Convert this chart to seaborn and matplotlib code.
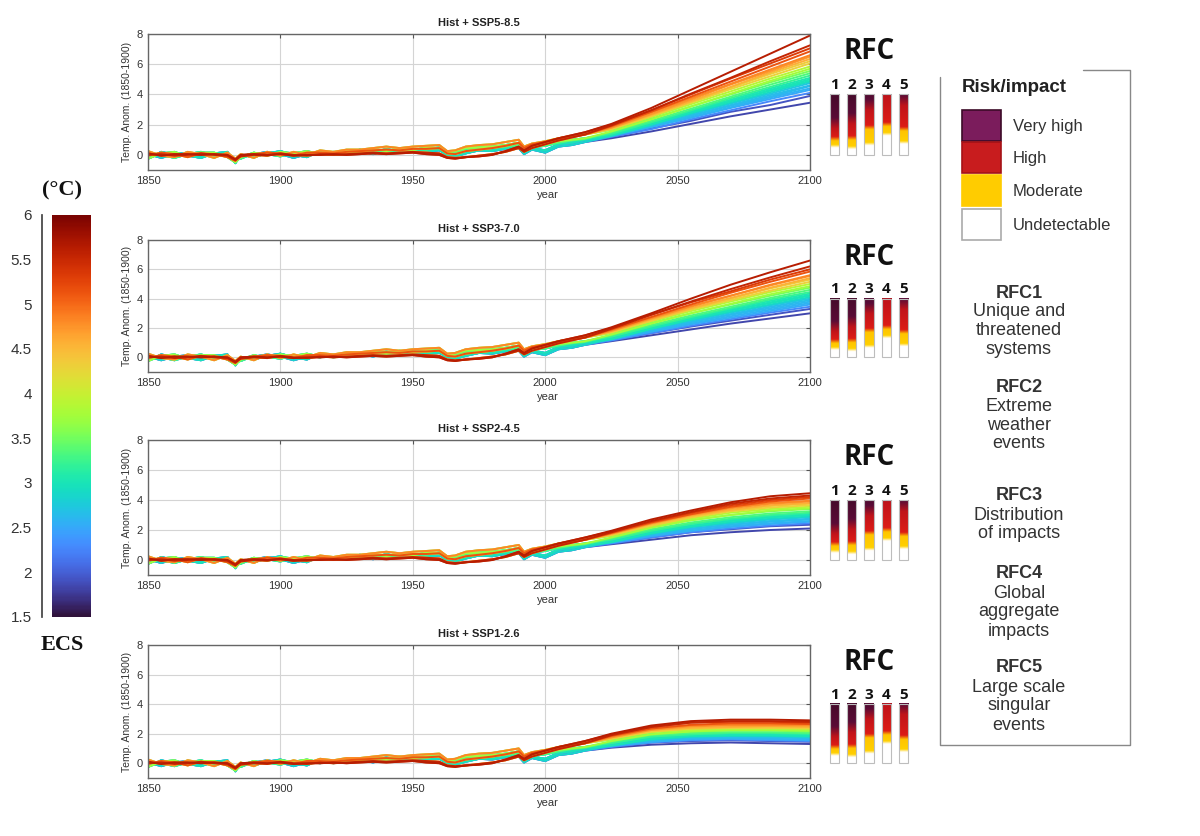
import numpy as np
import pandas as pd
import seaborn as sns
import matplotlib.pyplot as plt
from matplotlib.colors import LinearSegmentedColormap
from matplotlib.patches import Rectangle
from matplotlib.lines import Line2D

sns.set_theme(style='white')
plt.rcParams['font.family'] = ['Liberation Sans', 'DejaVu Sans']

# equilibrium climate sensitivity of each model (°C)
ecs = [1.83, 1.92, 2.26, 2.49, 2.56, 2.60, 2.64, 2.71, 2.87, 2.98, 3.00, 3.03, 3.22,
       3.34, 3.52, 3.74, 3.87, 4.31, 4.34, 4.56, 4.72, 4.83, 5.15, 5.34, 5.55, 5.64]
# which historical run each model follows
hist_kind = ['A', 'E', 'A', 'G', 'E', 'B', 'E', 'G', 'A', 'B', 'E', 'G', 'B',
             'G', 'C', 'B', 'H', 'C', 'D', 'H', 'D', 'C', 'H', 'F', 'D', 'F']

hist_years = [1850, 1855, 1860, 1865, 1870, 1875, 1880, 1883, 1885, 1890, 1895, 1900,
              1905, 1910, 1915, 1920, 1925, 1930, 1935, 1940, 1945, 1950, 1955, 1960,
              1963, 1966, 1970, 1975, 1980, 1985, 1990, 1992, 1995, 2000, 2005, 2010, 2015]
hist_runs = {
    'A': [0.05, -0.20, 0.05, 0.15, -0.10, 0.05, -0.10, -0.40, -0.05, 0.05, 0.20, 0.05,
          -0.20, 0.05, 0.15, 0.00, 0.10, 0.25, 0.05, 0.30, 0.15, 0.25, 0.20, 0.30,
          0.05, 0.10, 0.20, 0.30, 0.25, 0.40, 0.45, 0.05, 0.35, 0.15, 0.55, 0.65, 0.85],
    'B': [-0.25, 0.10, 0.20, -0.10, 0.15, 0.15, -0.15, -0.50, -0.15, 0.15, -0.05, 0.20,
          0.10, 0.25, 0.05, 0.15, 0.30, 0.15, 0.40, 0.25, 0.45, 0.30, 0.50, 0.45,
          0.15, 0.25, 0.45, 0.50, 0.55, 0.65, 0.80, 0.45, 0.60, 0.75, 0.90, 1.00, 1.10],
    'C': [0.25, -0.05, -0.15, 0.20, 0.05, -0.20, 0.15, -0.25, 0.05, -0.20, 0.20, -0.05,
          0.20, 0.00, 0.30, 0.20, 0.35, 0.35, 0.45, 0.55, 0.45, 0.55, 0.60, 0.65,
          0.25, 0.30, 0.55, 0.65, 0.70, 0.85, 1.00, 0.55, 0.75, 0.90, 1.10, 1.25, 1.35],
    'D': [0.00, 0.05, -0.05, 0.00, 0.10, 0.00, -0.05, -0.35, -0.10, 0.00, -0.05, 0.10,
          0.00, -0.05, 0.05, 0.00, 0.05, 0.10, 0.15, 0.10, 0.15, 0.20, 0.15, 0.10,
          -0.15, -0.20, -0.15, -0.05, 0.05, 0.20, 0.45, 0.20, 0.45, 0.70, 0.95, 1.15, 1.35],
    'E': [-0.25, 0.20, 0.00, -0.05, -0.20, 0.10, 0.20, -0.55, 0.00, -0.15, 0.10, 0.25,
          0.00, -0.15, 0.25, 0.05, 0.05, 0.35, 0.15, 0.40, 0.20, 0.40, 0.25, 0.35,
          -0.05, -0.10, 0.10, 0.30, 0.30, 0.45, 0.50, 0.15, 0.45, 0.30, 0.70, 0.80, 1.00],
    'F': [0.10, -0.05, 0.05, 0.05, 0.00, 0.05, 0.00, -0.30, 0.00, 0.05, 0.00, 0.05,
          -0.05, 0.00, 0.00, 0.05, 0.00, 0.05, 0.10, 0.05, 0.10, 0.15, 0.05, 0.00,
          -0.20, -0.25, -0.15, -0.10, 0.00, 0.25, 0.55, 0.30, 0.60, 0.85, 1.10, 1.30, 1.50],
    'G': [0.15, 0.00, -0.20, 0.05, 0.20, -0.05, 0.05, -0.30, -0.25, 0.10, 0.05, -0.10,
          0.15, 0.10, 0.00, 0.20, 0.10, 0.30, 0.30, 0.20, 0.35, 0.40, 0.35, 0.50,
          0.20, 0.15, 0.30, 0.45, 0.45, 0.55, 0.65, 0.35, 0.50, 0.60, 0.80, 0.95, 1.05],
    'H': [-0.05, 0.15, 0.05, -0.15, 0.10, 0.05, -0.15, -0.40, -0.05, 0.05, 0.15, 0.10,
          -0.05, 0.15, 0.15, 0.10, 0.20, 0.25, 0.30, 0.35, 0.30, 0.40, 0.40, 0.45,
          0.10, 0.05, 0.25, 0.35, 0.45, 0.60, 0.80, 0.45, 0.70, 0.85, 1.05, 1.20, 1.35],
}

scen_years = [2025, 2040, 2055, 2070, 2085, 2100]
ssp585 = [[1.10, 1.55, 2.05, 2.55, 3.00, 3.45], [1.20, 1.75, 2.25, 2.85, 3.30, 3.90],
          [1.20, 1.70, 2.35, 2.95, 3.55, 4.10], [1.30, 1.85, 2.45, 3.10, 3.70, 4.30],
          [1.25, 1.85, 2.50, 3.15, 3.80, 4.40], [1.35, 1.95, 2.60, 3.25, 3.85, 4.55],
          [1.30, 1.90, 2.60, 3.30, 3.95, 4.60], [1.40, 2.05, 2.70, 3.40, 4.05, 4.75],
          [1.25, 2.00, 2.75, 3.45, 4.15, 4.85], [1.45, 2.10, 2.85, 3.55, 4.25, 4.90],
          [1.30, 2.00, 2.80, 3.55, 4.30, 5.00], [1.45, 2.15, 2.90, 3.65, 4.40, 5.10],
          [1.40, 2.15, 2.95, 3.75, 4.50, 5.25], [1.50, 2.25, 3.05, 3.85, 4.65, 5.40],
          [1.65, 2.40, 3.20, 4.00, 4.80, 5.55], [1.55, 2.35, 3.20, 4.05, 4.90, 5.70],
          [1.70, 2.50, 3.35, 4.20, 5.05, 5.85], [1.75, 2.60, 3.45, 4.35, 5.20, 6.05],
          [1.70, 2.55, 3.50, 4.45, 5.35, 6.20], [1.80, 2.65, 3.55, 4.50, 5.45, 6.35],
          [1.80, 2.70, 3.65, 4.65, 5.55, 6.50], [1.85, 2.80, 3.75, 4.70, 5.65, 6.60],
          [1.90, 2.85, 3.85, 4.85, 5.85, 6.85], [2.00, 2.95, 4.00, 5.05, 6.05, 7.05],
          [1.95, 2.95, 4.05, 5.10, 6.20, 7.25], [2.05, 3.10, 4.30, 5.50, 6.70, 7.90]]
ssp370 = [[1.10, 1.50, 1.90, 2.30, 2.65, 3.00], [1.20, 1.65, 2.10, 2.50, 2.90, 3.30],
          [1.15, 1.65, 2.15, 2.60, 3.05, 3.45], [1.25, 1.75, 2.25, 2.70, 3.15, 3.60],
          [1.20, 1.75, 2.30, 2.80, 3.25, 3.70], [1.35, 1.85, 2.40, 2.90, 3.35, 3.80],
          [1.30, 1.85, 2.40, 2.95, 3.45, 3.90], [1.40, 1.95, 2.50, 3.05, 3.55, 4.00],
          [1.25, 1.95, 2.55, 3.10, 3.60, 4.10], [1.45, 2.05, 2.65, 3.20, 3.70, 4.20],
          [1.25, 1.95, 2.60, 3.20, 3.75, 4.25], [1.45, 2.10, 2.70, 3.30, 3.85, 4.35],
          [1.40, 2.10, 2.75, 3.35, 3.95, 4.45], [1.50, 2.20, 2.85, 3.45, 4.05, 4.60],
          [1.65, 2.35, 3.00, 3.60, 4.20, 4.75], [1.55, 2.30, 3.00, 3.65, 4.30, 4.85],
          [1.70, 2.45, 3.15, 3.80, 4.45, 5.00], [1.75, 2.50, 3.25, 3.90, 4.55, 5.15],
          [1.70, 2.50, 3.30, 4.00, 4.70, 5.30], [1.80, 2.60, 3.35, 4.05, 4.75, 5.40],
          [1.80, 2.65, 3.45, 4.20, 4.90, 5.55], [1.85, 2.70, 3.50, 4.20, 4.95, 5.60],
          [1.90, 2.75, 3.60, 4.40, 5.15, 5.85], [2.00, 2.90, 3.75, 4.50, 5.30, 6.00],
          [1.95, 2.90, 3.80, 4.65, 5.45, 6.20], [2.05, 3.00, 4.00, 4.95, 5.80, 6.60]]
ssp245 = [[1.05, 1.35, 1.65, 1.85, 2.00, 2.10], [1.15, 1.50, 1.85, 2.05, 2.25, 2.35],
          [1.10, 1.50, 1.85, 2.10, 2.30, 2.45], [1.20, 1.60, 1.95, 2.20, 2.40, 2.55],
          [1.15, 1.60, 1.95, 2.25, 2.45, 2.60], [1.30, 1.70, 2.05, 2.35, 2.55, 2.70],
          [1.25, 1.70, 2.10, 2.35, 2.60, 2.75], [1.35, 1.80, 2.20, 2.45, 2.70, 2.85],
          [1.20, 1.75, 2.20, 2.50, 2.75, 2.90], [1.40, 1.90, 2.30, 2.60, 2.85, 3.00],
          [1.20, 1.80, 2.25, 2.60, 2.85, 3.00], [1.40, 1.95, 2.40, 2.70, 2.95, 3.10],
          [1.35, 1.95, 2.40, 2.75, 3.00, 3.15], [1.45, 2.05, 2.50, 2.85, 3.10, 3.25],
          [1.60, 2.20, 2.65, 3.00, 3.25, 3.40], [1.50, 2.15, 2.65, 3.00, 3.30, 3.45],
          [1.65, 2.25, 2.75, 3.15, 3.40, 3.55], [1.70, 2.30, 2.85, 3.25, 3.50, 3.65],
          [1.65, 2.30, 2.85, 3.30, 3.60, 3.75], [1.75, 2.40, 2.95, 3.35, 3.65, 3.80],
          [1.75, 2.45, 3.00, 3.45, 3.75, 3.90], [1.80, 2.45, 3.05, 3.50, 3.80, 3.95],
          [1.80, 2.50, 3.05, 3.55, 3.90, 4.10], [1.90, 2.55, 3.15, 3.65, 4.00, 4.20],
          [1.85, 2.60, 3.20, 3.75, 4.10, 4.30], [1.95, 2.70, 3.30, 3.85, 4.25, 4.45]]
ssp126 = [[1.05, 1.25, 1.35, 1.40, 1.35, 1.30], [1.15, 1.40, 1.50, 1.55, 1.50, 1.45],
          [1.10, 1.40, 1.55, 1.60, 1.55, 1.50], [1.20, 1.45, 1.60, 1.65, 1.60, 1.55],
          [1.15, 1.45, 1.65, 1.70, 1.65, 1.60], [1.30, 1.55, 1.70, 1.75, 1.75, 1.70],
          [1.25, 1.55, 1.70, 1.75, 1.75, 1.70], [1.35, 1.65, 1.80, 1.85, 1.80, 1.75],
          [1.20, 1.60, 1.80, 1.85, 1.85, 1.80], [1.40, 1.75, 1.85, 1.90, 1.90, 1.85],
          [1.20, 1.65, 1.85, 1.90, 1.90, 1.85], [1.40, 1.80, 1.95, 2.00, 2.00, 1.95],
          [1.35, 1.80, 1.95, 2.05, 2.05, 2.00], [1.45, 1.90, 2.05, 2.10, 2.10, 2.05],
          [1.60, 2.00, 2.15, 2.20, 2.20, 2.15], [1.50, 1.95, 2.15, 2.25, 2.25, 2.20],
          [1.65, 2.10, 2.25, 2.30, 2.30, 2.30], [1.70, 2.15, 2.35, 2.40, 2.40, 2.35],
          [1.65, 2.15, 2.35, 2.40, 2.40, 2.40], [1.75, 2.25, 2.40, 2.45, 2.50, 2.45],
          [1.75, 2.25, 2.50, 2.55, 2.55, 2.55], [1.80, 2.30, 2.55, 2.60, 2.60, 2.60],
          [1.85, 2.35, 2.60, 2.70, 2.70, 2.65], [1.95, 2.45, 2.75, 2.80, 2.80, 2.75],
          [1.90, 2.45, 2.75, 2.85, 2.85, 2.80], [2.00, 2.55, 2.85, 2.95, 2.95, 2.90]]

titles = ['Hist + SSP5-8.5', 'Hist + SSP3-7.0', 'Hist + SSP2-4.5', 'Hist + SSP1-2.6']
scen_values = [ssp585, ssp370, ssp245, ssp126]

# burning embers (°C): white->yellow, yellow->red, red->very high transitions
rfc_ids = ['1', '2', '3', '4', '5']
ember_w = [0.55, 0.45, 0.70, 1.35, 0.80]
ember_y = [1.05, 1.10, 1.80, 2.00, 1.70]
ember_r = [2.10, 2.40, 3.30, 4.20, 3.60]

legend_labels = ['Very high', 'High', 'Moderate', 'Undetectable']
legend_colors = ['#7b1c5c', '#c81c1e', '#ffcc00', '#ffffff']
legend_edges = ['#3c0a28', '#a51216', '#ffcc00', '#aaaaaa']

rfc_text = [('RFC1', ['Unique and', 'threatened', 'systems']),
            ('RFC2', ['Extreme', 'weather', 'events']),
            ('RFC3', ['Distribution', 'of impacts']),
            ('RFC4', ['Global', 'aggregate', 'impacts']),
            ('RFC5', ['Large scale', 'singular', 'events'])]
rfc_text_y = [293, 387, 496, 574, 668]

rows = []
for p, vals in enumerate(scen_values):
    for m in range(len(ecs)):
        for x, y in zip(hist_years + scen_years, hist_runs[hist_kind[m]] + vals[m]):
            rows.append((p, m, x, y, ecs[m]))
df = pd.DataFrame(rows, columns=['panel', 'model', 'year', 'temp', 'ecs'])

W, H = 1200, 836
fig = plt.figure(figsize=(W / 100, H / 100), dpi=100)


def box(x0, y0, x1, y1):
    return [x0 / W, 1 - y1 / H, (x1 - x0) / W, (y1 - y0) / H]


tops = [34, 240, 440, 645]
bots = [170, 372, 575, 778]
txt = '#333333'
EMAX = 4.8

for p in range(4):
    ax = fig.add_axes(box(148, tops[p], 810, bots[p]))
    sns.lineplot(data=df[df.panel == p], x='year', y='temp', hue='ecs', units='model',
                 estimator=None, palette='turbo', hue_norm=(1.5, 6), legend=False,
                 linewidth=1.4, sort=False, ax=ax)
    ax.set_xlim(1850, 2100)
    ax.set_ylim(-1, 8)
    ax.set_xticks([1850, 1900, 1950, 2000, 2050, 2100])
    ax.set_yticks([0, 2, 4, 6, 8])
    ax.grid(True, color='#d4d4d4', linewidth=0.8)
    ax.set_axisbelow(True)
    ax.tick_params(direction='in', length=3, width=0.8, top=True, right=True,
                   labelsize=8, colors='#555555', labelcolor=txt, pad=4)
    for s in ax.spines.values():
        s.set_color('#666666')
        s.set_linewidth(1.0)
    ax.set_title(titles[p], fontsize=8, fontweight='bold', color='#222222', pad=6)
    ax.set_ylabel('Temp. Anom. (1850-1900)', fontsize=7.5, color=txt, labelpad=3)
    ax.set_xlabel('year', fontsize=8, color=txt)
    ax.xaxis.set_label_coords(0.604, -0.15)

    # burning embers
    ea = fig.add_axes(box(826, tops[p], 912, bots[p]))
    ea.set_xlim(0.5, 5.5)
    ea.set_ylim(-1, 8)
    ea.axis('off')
    grad = np.linspace(0, 4, 300)[:, None]
    for i in range(5):
        w, y, r = ember_w[i], ember_y[i], ember_r[i]
        stops = [(0, '#ffffff'), (w - 0.08, '#ffffff'), (w + 0.12, '#ffd000'),
                 (y - 0.12, '#ffc400'), (y + 0.15, '#dc1c16'), (r - 0.35, '#c0141a'),
                 (r + 0.35, '#5a0c36'), (EMAX, '#3a0a24')]
        cmap = LinearSegmentedColormap.from_list('ember', [(v / EMAX, c) for v, c in stops])
        ea.imshow(grad, extent=[i + 1 - 0.27, i + 1 + 0.27, 0, 4], origin='lower',
                  aspect='auto', cmap=cmap, vmin=0, vmax=EMAX)
        ea.add_patch(Rectangle((i + 1 - 0.27, 0), 0.54, 4, fill=False,
                               ec='#bdbdbd', lw=0.8))
        ea.text(i + 1, 4.15, rfc_ids[i], ha='center', va='bottom', fontsize=11,
                fontweight='bold', family='Open Sans', color='#111111')
    ea.text(3, 5.85, 'RFC', ha='center', va='bottom', fontsize=20, fontweight='bold',
            family='Open Sans', color='#111111')

# ECS colour bar
ca = fig.add_axes(box(52, 215, 90, 617))
ca.imshow(np.linspace(1.5, 6, 300)[:, None], extent=[0, 1, 1.5, 6], origin='lower',
          aspect='auto', cmap='turbo', vmin=1.5, vmax=6)
ca.set_xlim(0, 1)
ca.set_ylim(1.5, 6)
ca.set_xticks([])
ca.set_yticks([1.5, 2, 2.5, 3, 3.5, 4, 4.5, 5, 5.5, 6])
ca.set_yticklabels(['1.5', '2', '2.5', '3', '3.5', '4', '4.5', '5', '5.5', '6'],
                   family='Liberation Serif', fontsize=9)
for k in ['top', 'right', 'bottom']:
    ca.spines[k].set_visible(False)
ca.spines['left'].set_position(('outward', 7))
ca.spines['left'].set_color('#444444')
ca.tick_params(axis='y', direction='out', length=4, colors='#444444', labelcolor=txt)
fig.text(62 / W, 1 - 190 / H, '(°C)', ha='center', va='center', fontsize=16,
         fontweight='bold', family='Liberation Serif', color='#111111')
fig.text(62 / W, 1 - 645 / H, 'ECS', ha='center', va='center', fontsize=16,
         fontweight='bold', family='Liberation Serif', color='#111111')

# legend frame
fig.add_artist(Line2D([x / W for x in [1083, 1130, 1130, 940, 940]],
                      [1 - y / H for y in [70, 70, 745, 745, 77]],
                      color='#888888', lw=1.0))
fig.text(962 / W, 1 - 88 / H, 'Risk/impact', fontsize=13.5, fontweight='bold',
         color='#222222', va='center', ha='left')
sw_top = [110, 142, 175, 209]
for i in range(4):
    fig.add_artist(Rectangle((962 / W, 1 - (sw_top[i] + 31) / H), 39 / W, 31 / H,
                             fc=legend_colors[i], ec=legend_edges[i], lw=1.2,
                             transform=fig.transFigure))
    fig.text(1013 / W, 1 - (sw_top[i] + 16) / H, legend_labels[i], fontsize=12,
             color='#333333', va='center', ha='left')

for (head, lines), y0 in zip(rfc_text, rfc_text_y):
    fig.text(1019 / W, 1 - y0 / H, head, fontsize=13, fontweight='bold', color='#333333',
             ha='center', va='center')
    for k, line in enumerate(lines):
        fig.text(1019 / W, 1 - (y0 + 19 * (k + 1)) / H, line, fontsize=13,
                 color='#333333', ha='center', va='center')

fig.savefig('out.png', dpi=100)
